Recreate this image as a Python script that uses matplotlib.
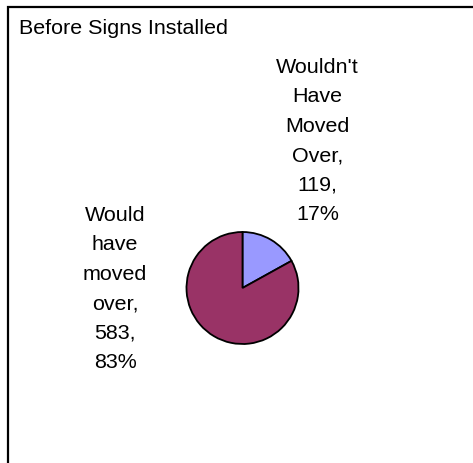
import matplotlib
matplotlib.use("Agg")
import matplotlib.pyplot as plt
from matplotlib.patches import Rectangle

plt.rcParams['font.family'] = ['Liberation Sans', 'DejaVu Sans']

title = "Before Signs Installed"
categories = ["Wouldn't Have Moved Over", "Would have moved over"]
counts = [119, 583]
colors = ["#9999FF", "#993366"]

W, H = 473, 464
DPI = 100
fig = plt.figure(figsize=(W / DPI, H / DPI), dpi=DPI)
fig.patch.set_facecolor("white")

# chart-area frame (runs off the right and bottom edges)
fig.patches.append(Rectangle((8 / W, -0.05), 1.2, 1 - 8 / H + 0.05,
                             transform=fig.transFigure, fill=False,
                             edgecolor="black", linewidth=1.6))

fs = 21.5 * 72 / DPI
fig.text(19 / W, 1 - 29 / H, title, fontsize=fs, ha="left", va="center")

# pie centre and radius in pixels
cx, cy, r = 242.5, 289, 56
ax = fig.add_axes([(cx - r) / W, (H - cy - r) / H, 2 * r / W, 2 * r / H])
ax.pie(counts, colors=colors, startangle=90, counterclock=False, radius=1,
       wedgeprops=dict(edgecolor="black", linewidth=1.3))
ax.set_xlim(-1, 1)
ax.set_ylim(-1, 1)
ax.set_aspect("equal")
ax.axis("off")

total = sum(counts)
def label_text(name, n):
    pct = round(100 * n / total)
    words = name.split(" ")
    return "\n".join(words[:-1] + [words[-1] + ","]) + f"\n{n},\n{pct}%"

positions = [((317.5 - cx) / r, (cy - 141) / r), ((115 - cx) / r, 0.0)]
for name, n, (x, y) in zip(categories, counts, positions):
    ax.text(x, y, label_text(name, n), ha="center", va="center",
            fontsize=fs, linespacing=1.7, clip_on=False, multialignment="center")

fig.savefig("out.png", dpi=DPI, facecolor="white")
